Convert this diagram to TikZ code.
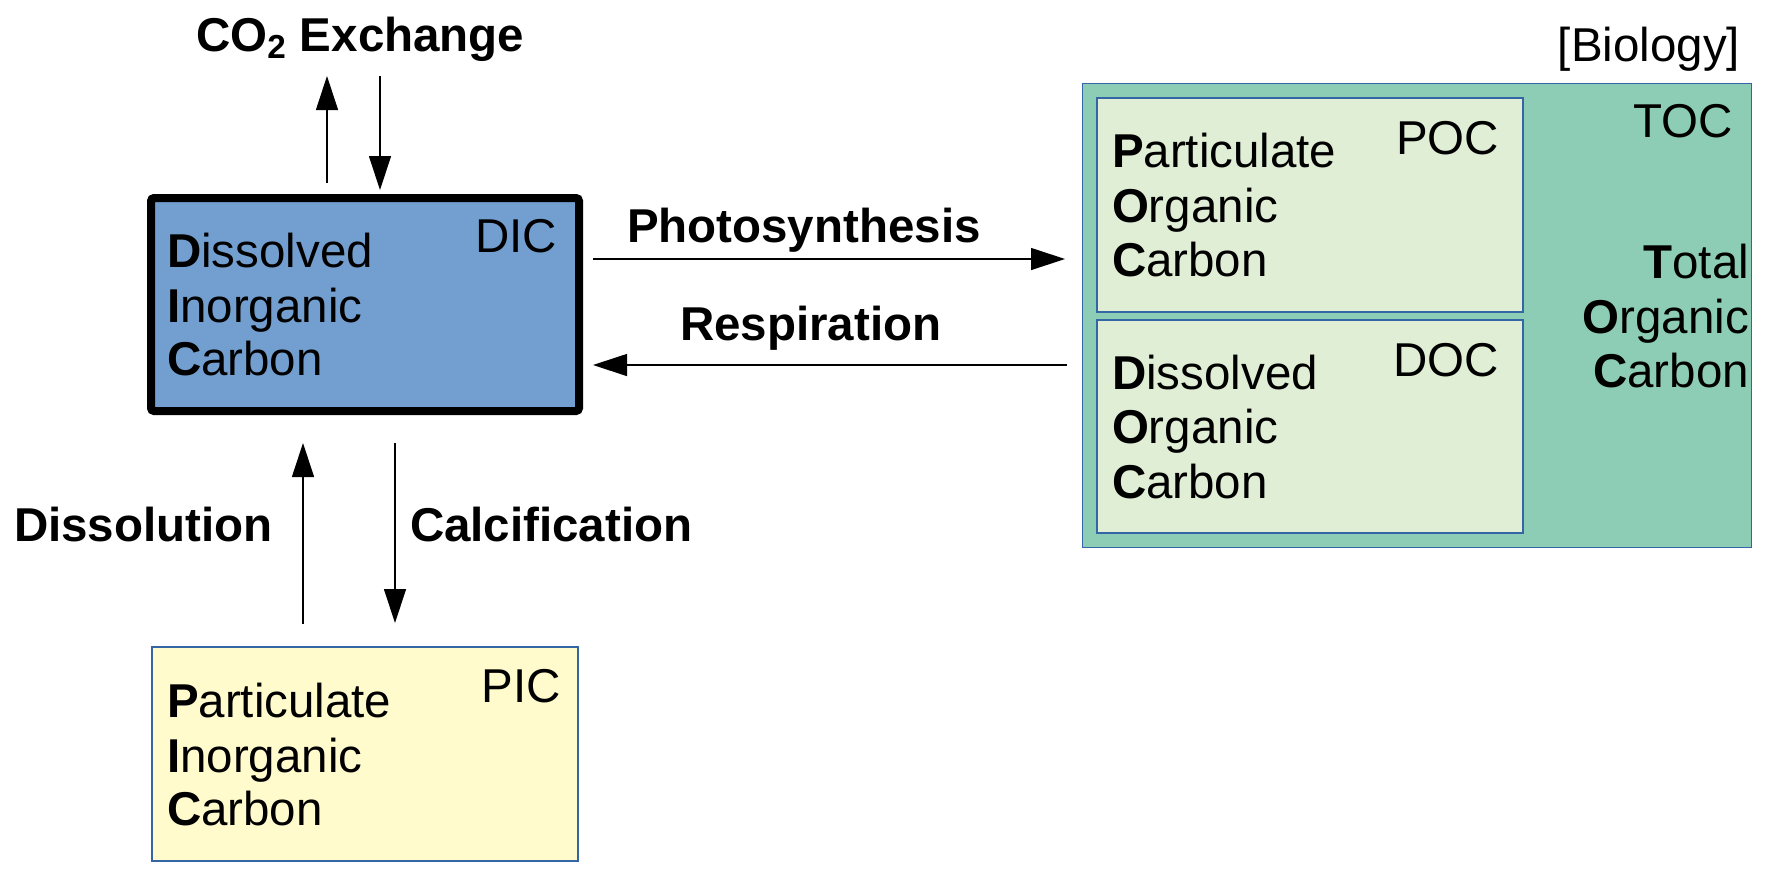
\documentclass[tikz,border=0pt]{standalone}
\usepackage{fontspec}
\setmainfont{Liberation Sans}
\usetikzlibrary{arrows.meta}
\definecolor{dicblue}{HTML}{729FCF}
\definecolor{tocgreen}{HTML}{8ECDB5}
\definecolor{ocfill}{HTML}{E0EED5}
\definecolor{picfill}{HTML}{FFFBCC}
\definecolor{thinborder}{HTML}{3465A4}
\tikzset{
  txt/.style={inner sep=0pt, outer sep=0pt, font=\fontsize{23.75pt}{27.5pt}\selectfont},
  lbl/.style={txt, font=\fontsize{23.75pt}{27.5pt}\selectfont\bfseries},
  thinbox/.style={draw=thinborder, line width=0.7pt, inner sep=0pt, outer sep=0pt},
  flow/.style={line width=0.6pt, -{Triangle[length=17pt,width=11pt]}},
}
\begin{document}
\begin{tikzpicture}[x=0.5pt, y=-0.5pt]
\useasboundingbox (0,0) rectangle (1789,875);
% boxes
\node[draw=black, fill=dicblue, line width=4pt, rounded corners=1.5pt, inner sep=0pt,
      minimum width=214pt, minimum height=106.5pt] (dic) at (365,304.5) {};
\node[thinbox, fill=tocgreen, minimum width=334.5pt, minimum height=232pt] (toc) at (1417,315.5) {};
\node[thinbox, fill=ocfill, minimum width=213pt, minimum height=107pt] (poc) at (1310,205) {};
\node[thinbox, fill=ocfill, minimum width=213pt, minimum height=106.5pt] (doc) at (1310,426.5) {};
\node[thinbox, fill=picfill, minimum width=213pt, minimum height=107pt] (pic) at (365,754) {};
% DIC text
\node[txt, anchor=base east] (diclbl) at (557,252) {DIC};
\node[txt, anchor=base west] (dic1) at (167,267) {\textbf{D}issolved};
\node[txt, anchor=base west] (dic2) at (167,322) {\textbf{I}norganic};
\node[txt, anchor=base west] (dic3) at (167,375) {\textbf{C}arbon};
% PIC text
\node[txt, anchor=base east] (piclbl) at (561,702) {PIC};
\node[txt, anchor=base west] (pic1) at (167,717) {\textbf{P}articulate};
\node[txt, anchor=base west] (pic2) at (167,772) {\textbf{I}norganic};
\node[txt, anchor=base west] (pic3) at (167,825) {\textbf{C}arbon};
% POC text
\node[txt, anchor=base east] (poclbl) at (1499,154) {POC};
\node[txt, anchor=base west] (poc1) at (1112,167) {\textbf{P}articulate};
\node[txt, anchor=base west] (poc2) at (1112,222) {\textbf{O}rganic};
\node[txt, anchor=base west] (poc3) at (1112,276) {\textbf{C}arbon};
% DOC text
\node[txt, anchor=base east] (doclbl) at (1499,376) {DOC};
\node[txt, anchor=base west] (doc1) at (1112,389) {\textbf{D}issolved};
\node[txt, anchor=base west] (doc2) at (1112,443) {\textbf{O}rganic};
\node[txt, anchor=base west] (doc3) at (1112,498) {\textbf{C}arbon};
% TOC text
\node[txt, anchor=base east] (toclbl) at (1733,137) {TOC};
\node[txt, anchor=base east] (toc1) at (1749,278) {\textbf{T}otal};
\node[txt, anchor=base east] (toc2) at (1749,333) {\textbf{O}rganic};
\node[txt, anchor=base east] (toc3) at (1749,387) {\textbf{C}arbon};
\node[txt, anchor=base east] (bio) at (1740,61) {[Biology]};
% process labels
\node[lbl, anchor=base west] (co2) at (196,51) {CO\textsubscript{2} Exchange};
\node[lbl, anchor=base west] (photo) at (627,242) {Photosynthesis};
\node[lbl, anchor=base west] (resp) at (680,340) {Respiration};
\node[lbl, anchor=base west] (disso) at (14,541) {Dissolution};
\node[lbl, anchor=base west] (calc) at (410,541) {Calcification};
% arrow end points
\coordinate (co2upS) at (327,183);
\coordinate (co2upE) at (327,76);
\coordinate (co2dnS) at (380,76);
\coordinate (co2dnE) at (380,190);
\coordinate (phS) at (593,259);
\coordinate (phE) at (1065,259);
\coordinate (reS) at (1067,365);
\coordinate (reE) at (593,365);
\coordinate (dsS) at (303,624);
\coordinate (dsE) at (303,443);
\coordinate (caS) at (395,443);
\coordinate (caE) at (395,623);
\draw[flow] (co2upS) -- (co2upE);
\draw[flow] (co2dnS) -- (co2dnE);
\draw[flow] (phS) -- (phE);
\draw[flow] (reS) -- (reE);
\draw[flow] (dsS) -- (dsE);
\draw[flow] (caS) -- (caE);
\end{tikzpicture}
\end{document}
